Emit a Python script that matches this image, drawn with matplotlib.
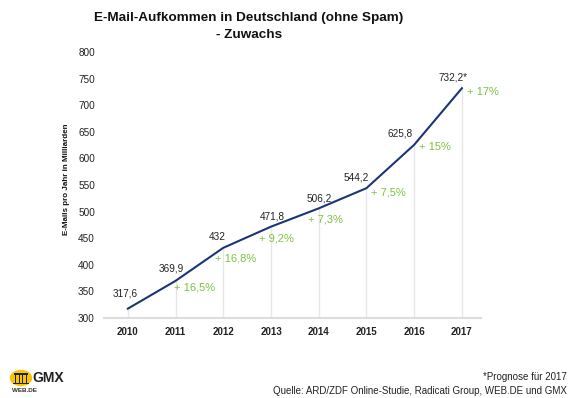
import matplotlib
matplotlib.use("Agg")
import matplotlib.pyplot as plt
from matplotlib.patches import Ellipse, Rectangle

plt.rcParams['font.family'] = ['Liberation Sans', 'DejaVu Sans']

years = [2010, 2011, 2012, 2013, 2014, 2015, 2016, 2017]
volume = [317.6, 369.9, 432, 471.8, 506.2, 544.2, 625.8, 732.2]
value_labels = ["317,6", "369,9", "432", "471,8", "506,2", "544,2", "625,8", "732,2*"]
growth_labels = ["", "+ 16,5%", "+ 16,8%", "+ 9,2%", "+ 7,3%", "+ 7,5%", "+ 15%", "+ 17%"]
yticks = [300, 350, 400, 450, 500, 550, 600, 650, 700, 750, 800]

# label placement (offset pixels from each point)
value_offsets = [(-3, 15), (-4, 12), (-6, 11), (1, 10), (0, 10), (-10, 11), (-14, 11), (-9, 11)]
growth_offsets = [(0, 0), (-2, -7), (-8, -11), (-12, -12), (-11, -11), (5, -4), (5, -2), (5, -4)]

fig = plt.figure(figsize=(5.8, 3.98), dpi=100)
ax = fig.add_axes([0.1793, 0.201, 0.65, 0.668])

line_color = '#1c3575'
green = '#7cc242'

ax.vlines(years, 300, volume, color='#e6e6e6', lw=1, zorder=1)
ax.plot(years, volume, color=line_color, lw=1.5, zorder=3)

for i, (x, y) in enumerate(zip(years, volume)):
    ax.annotate(value_labels[i], (x, y), xytext=value_offsets[i], textcoords='offset pixels',
                ha='center', va='center', fontsize=7.2, color='#222222', zorder=4)
    if growth_labels[i]:
        ax.annotate(growth_labels[i], (x, y), xytext=growth_offsets[i], textcoords='offset pixels',
                    ha='left', va='center', fontsize=8, color=green, zorder=4)

ax.set_xlim(2009.5, 2017.4)
ax.set_ylim(300, 800)
ax.set_xticks(years)
ax.set_xticklabels([str(y) for y in years], fontweight='bold', fontsize=7, color='#222222')
ax.set_yticks(yticks)
ax.set_yticklabels([str(t) for t in yticks], fontsize=7.2, color='#222222')
ax.tick_params(length=0)
ax.tick_params(axis='y', pad=6.5)
ax.tick_params(axis='x', pad=6.5)
for s in ['top', 'right', 'left']:
    ax.spines[s].set_visible(False)
ax.spines['bottom'].set_color('#dddddd')
ax.spines['bottom'].set_linewidth(1.5)

fig.text(67 / 580, 1 - 179 / 398, 'E-Mails pro Jahr in Milliarden', rotation=90,
         ha='center', va='center', fontsize=5.8, fontweight='bold', color='#111111')

fig.text(249 / 580, 1 - 18 / 398, 'E-Mail-Aufkommen in Deutschland (ohne Spam)',
         ha='center', va='center', fontsize=9.7, fontweight='bold', color='#111111')
fig.text(249 / 580, 1 - 35 / 398, '- Zuwachs',
         ha='center', va='center', fontsize=9.7, fontweight='bold', color='#111111')

fig.text(567 / 580, 1 - 377 / 398, '*Prognose für 2017', ha='right', va='center',
         fontsize=7, color='#222222')
fig.text(567 / 580, 1 - 391 / 398, 'Quelle: ARD/ZDF Online-Studie, Radicati Group, WEB.DE und GMX',
         ha='right', va='center', fontsize=7, color='#222222')

# logo: yellow badge with a small gate, GMX and WEB.DE
fig.patches.append(Ellipse((21 / 580, 1 - 378 / 398), 21 / 580, 15 / 398,
                           transform=fig.transFigure, color='#f7c600', zorder=0))
fig.patches.append(Rectangle((14 / 580, 1 - 375 / 398), 14 / 580, 2 / 398,
                             transform=fig.transFigure, color='#222222', lw=0))
for cx in [15, 18.5, 22, 25.5]:
    fig.patches.append(Rectangle((cx / 580, 1 - 383 / 398), 1.2 / 580, 8 / 398,
                                 transform=fig.transFigure, color='#222222', lw=0))
fig.patches.append(Rectangle((13 / 580, 1 - 384 / 398), 16 / 580, 1.5 / 398,
                             transform=fig.transFigure, color='#222222', lw=0))
fig.text(32 / 580, 1 - 378 / 398, 'GMX', ha='left', va='center', fontsize=10,
         fontweight='bold', color='#222222')
fig.text(12 / 580, 1 - 391 / 398, 'WEB.DE', ha='left', va='center', fontsize=4.5,
         fontweight='bold', color='#333333')

fig.savefig('out.png', dpi=100)
